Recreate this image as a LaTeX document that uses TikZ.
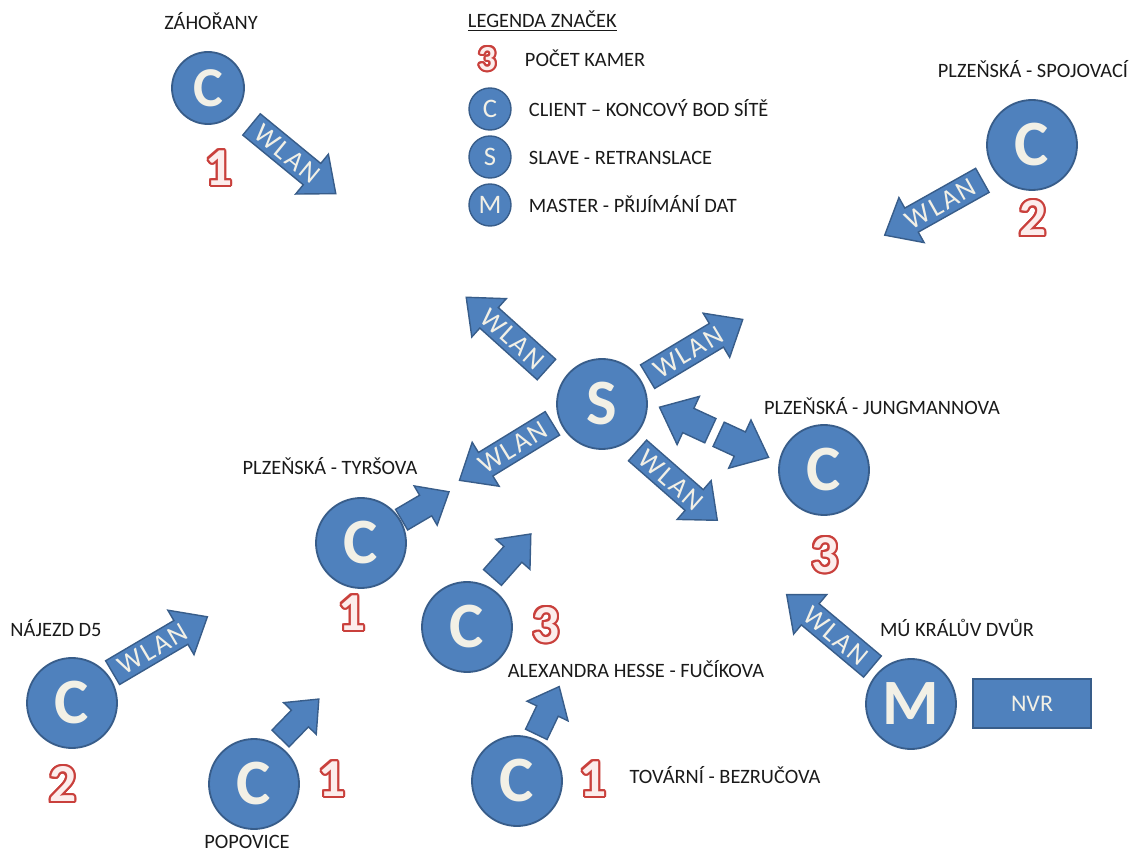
\documentclass[tikz,border=0pt]{standalone}
\usepackage{fontspec}
\setmainfont{Carlito}
\newfontfamily\wlanfont[LetterSpace=8]{Carlito}
\usetikzlibrary{shapes.arrows}
\definecolor{uzel}{HTML}{4F81BD}
\definecolor{okraj}{HTML}{385D8A}
\definecolor{krem}{HTML}{F2F0E6}
\definecolor{cervena}{HTML}{C9403C}
\definecolor{ruzova}{HTML}{FCEDEC}
\definecolor{pismo}{HTML}{1A1A1A}
\tikzset{
  stanice/.style={circle, draw=okraj, fill=uzel, line width=1.3pt, minimum size=2.25cm, inner sep=0pt, text=krem, font=\fontsize{46}{46}\selectfont\bfseries},
  znacka/.style={circle, draw=okraj, fill=uzel, line width=1pt, minimum size=1.05cm, inner sep=0pt, text=krem, font=\fontsize{19}{19}\selectfont},
  popis/.style={anchor=base, text=pismo, font=\fontsize{14.5}{14.5}\selectfont},
  wlan/.style={single arrow, draw=okraj, fill=uzel, line width=1pt, text height=12.6pt, text depth=0pt, inner xsep=1pt, inner ysep=3pt, single arrow head extend=0.3cm, single arrow tip angle=80, text=krem, font=\wlanfont\fontsize{19.5}{19.5}\selectfont, anchor=tail},
  sipka/.style={wlan, text height=0pt, inner ysep=8pt, single arrow head extend=0.27cm},
  dvojita/.style={sipka, inner ysep=9pt, single arrow head extend=0.33cm},
  delka/.style={minimum height=#1*0.025cm},
  doleva/.style={shape border rotate=180},
  nvr/.style={rectangle, draw=okraj, fill=uzel, line width=1.3pt, minimum width=2.95cm, minimum height=1.225cm, text=krem, font=\fontsize{17}{17}\selectfont}
}
% pocet kamer: jmeno, pozice, velikost, cislo
\newcommand{\kamery}[4]{%
  \foreach \u in {0,22.5,...,337.5}
    \node[text=cervena, font=\fontsize{#3}{#3}\selectfont\bfseries, shift={(\u:1.5pt)}] at (#2) {#4};
  \node[text=ruzova, font=\fontsize{#3}{#3}\selectfont\bfseries] (#1) at (#2) {#4};
}
\begin{document}
\begin{tikzpicture}[x=0.025cm, y=-0.025cm]
\useasboundingbox (0,0) rectangle (1140,852);

% legenda
\node[anchor=base west, text=pismo, font=\fontsize{14.5}{14.5}\selectfont] (legenda) at (463,28) {\underline{LEGENDA ZNAČEK}};
\kamery{legpocet}{487,59}{25}{3}
\node[anchor=base west, text=pismo, font=\fontsize{14.5}{14.5}\selectfont] (legpocettxt) at (520,67) {POČET KAMER};
\node[znacka] (legC) at (490,109) {C};
\node[znacka] (legS) at (490,157) {S};
\node[znacka] (legM) at (490,205) {M};
\node[anchor=base west, text=pismo, font=\fontsize{14.5}{14.5}\selectfont] (legCtxt) at (524,117) {CLIENT – KONCOVÝ BOD SÍTĚ};
\node[anchor=base west, text=pismo, font=\fontsize{14.5}{14.5}\selectfont] (legStxt) at (524,165) {SLAVE - RETRANSLACE};
\node[anchor=base west, text=pismo, font=\fontsize{14.5}{14.5}\selectfont] (legMtxt) at (524,213) {MASTER - PŘIJÍMÁNÍ DAT};

% stanice
\node[stanice, minimum size=1.8cm, font=\fontsize{40}{40}\selectfont\bfseries] (zahorany) at (208,88) {C};
\node[stanice] (spojovaci) at (1032,145) {C};
\node[stanice] (slave) at (602,404) {S};
\node[stanice] (jungmannova) at (824,470) {C};
\node[stanice] (tyrsova) at (361,543) {C};
\node[stanice] (hesse) at (467,627) {C};
\node[stanice] (najezd) at (72,703) {C};
\node[stanice] (popovice) at (254,784) {C};
\node[stanice] (tovarni) at (517,781) {C};
\node[stanice] (master) at (911,704) {M};
\node[nvr] (nvr) at (1032,703.5) {NVR};

% popisky
\node[popis] (lzahorany) at (211,30) {ZÁHOŘANY};
\node[popis] (lspojovaci) at (1033,78) {PLZEŇSKÁ - SPOJOVACÍ};
\node[popis] (ljungmannova) at (882,415) {PLZEŇSKÁ - JUNGMANNOVA};
\node[popis] (ltyrsova) at (330,475) {PLZEŇSKÁ - TYRŠOVA};
\node[popis] (lhesse) at (636,677) {ALEXANDRA HESSE - FUČÍKOVA};
\node[popis] (lnajezd) at (56,637) {NÁJEZD D5};
\node[popis] (lpopovice) at (247,848) {POPOVICE};
\node[popis] (ltovarni) at (725,783) {TOVÁRNÍ - BEZRUČOVA};
\node[popis] (lmaster) at (957,637) {MÚ KRÁLŮV DVŮR};

% pocty kamer
\kamery{pzahorany}{219,168}{38}{1}
\kamery{pspojovaci}{1033,218}{38}{2}
\kamery{pjungmannova}{825,555}{38}{3}
\kamery{ptyrsova}{352,613}{38}{1}
\kamery{phesse}{546,625}{38}{3}
\kamery{pnajezd}{63,784}{38}{2}
\kamery{ppopovice}{332,779}{38}{1}
\kamery{ptovarni}{593,779}{38}{1}

% sipky WLAN
\node[wlan, delka=109, rotate=-39.4] (azahorany) at (251,124) {WLAN};
\node[wlan, delka=112, rotate=29.3, doleva] (aspojovaci) at (983,180) {WLAN};
\node[wlan, delka=108, rotate=-42, doleva] (aslaveUL) at (547,370) {WLAN};
\node[wlan, delka=111, rotate=31] (aslaveUR) at (647,377) {WLAN};
\node[wlan, delka=109, rotate=31.5, doleva] (aslaveLL) at (553,423) {WLAN};
\node[wlan, delka=106, rotate=-41.2] (aslaveLR) at (637,450) {WLAN};
\node[wlan, delka=110, rotate=30.5] (anajezd) at (112,673) {WLAN};
\node[wlan, delka=112, rotate=-40, doleva] (amaster) at (873,667) {WLAN};

% kratke sipky
\node[dvojita, delka=56, rotate=-24.8, doleva] (ajungL) at (711,431) {};
\node[dvojita, delka=55, rotate=-24.8] (ajungR) at (718,434) {};
\node[sipka, delka=55, rotate=30.4] (atyrsova) at (401,520) {};
\node[sipka, delka=58, rotate=48.6] (ahesse) at (492,578) {};
\node[sipka, delka=55, rotate=45.8] (apopovice) at (280,739) {};
\node[sipka, delka=53, rotate=64.4] (atovarni) at (536,735) {};
\end{tikzpicture}
\end{document}
